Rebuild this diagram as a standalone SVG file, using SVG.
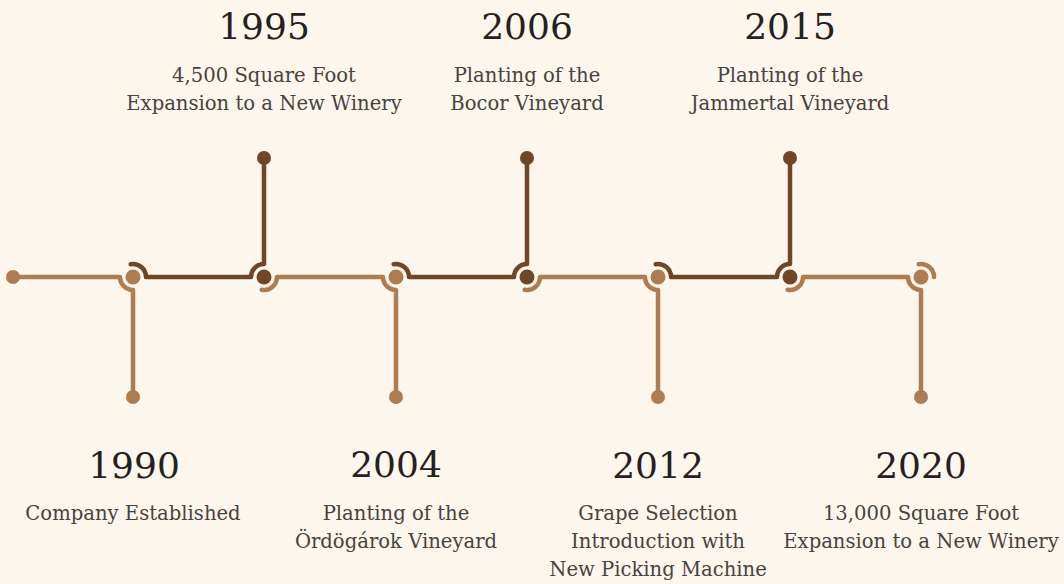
<svg xmlns="http://www.w3.org/2000/svg" width="1064" height="584" viewBox="0 0 1064 584">
<style>
.bg{fill:#fdf6ed}
.ln{fill:none;stroke-width:4.5;stroke-linecap:round;stroke-linejoin:round}
.lt{stroke:#ad7c50}
.dk{stroke:#6f4727}
.flt{fill:#ad7c50}
.fdk{fill:#6f4727}
.yr{font-family:"DejaVu Serif","Liberation Serif",serif;font-size:36px;fill:#262120;text-anchor:middle}
.ds{font-family:"DejaVu Serif","Liberation Serif",serif;font-size:19.6px;fill:#48433f;text-anchor:middle}
</style>
<rect class="bg" x="0" y="0" width="1064" height="584"/>
<g id="connectors">
<path class="ln lt" d="M13,277 H120 A13,13 0 0 0 133,290 V397"/>
<path class="ln dk" d="M130.7,264.2 A13,13 0 0 1 146,277 H251 A13,13 0 0 1 264,264 V158"/>
<path class="ln lt" d="M261.7,289.8 A13,13 0 0 0 277,277 H383 A13,13 0 0 0 396,290 V397"/>
<path class="ln dk" d="M393.7,264.2 A13,13 0 0 1 409,277 H514 A13,13 0 0 1 527,264 V158"/>
<path class="ln lt" d="M524.7,289.8 A13,13 0 0 0 540,277 H645 A13,13 0 0 0 658,290 V397"/>
<path class="ln dk" d="M655.7,264.2 A13,13 0 0 1 671,277 H777 A13,13 0 0 1 790,264 V158"/>
<path class="ln lt" d="M787.7,289.8 A13,13 0 0 0 803,277 H908 A13,13 0 0 0 921,290 V397"/>
<path class="ln lt" d="M918.7,264.2 A13,13 0 0 1 934,277"/>
</g>
<g id="start"><circle class="flt" cx="13" cy="277" r="7"/></g>
<g id="n1990">
<circle class="flt" cx="133" cy="277" r="7.5"/>
<circle class="flt" cx="133" cy="397" r="7"/>
<text class="yr" x="134" y="478">1990</text>
<text class="ds" x="133" y="520">Company Established</text>
</g>
<g id="n1995">
<circle class="fdk" cx="264" cy="277" r="7.5"/>
<circle class="fdk" cx="264" cy="158" r="7"/>
<text class="yr" x="264" y="39">1995</text>
<text class="ds" x="264" y="82">4,500 Square Foot</text>
<text class="ds" x="264" y="110">Expansion to a New Winery</text>
</g>
<g id="n2004">
<circle class="flt" cx="396" cy="277" r="7.5"/>
<circle class="flt" cx="396" cy="397" r="7"/>
<text class="yr" x="396" y="477">2004</text>
<text class="ds" x="396" y="520">Planting of the</text>
<text class="ds" x="396" y="548">Ördögárok Vineyard</text>
</g>
<g id="n2006">
<circle class="fdk" cx="527" cy="277" r="7.5"/>
<circle class="fdk" cx="527" cy="158" r="7"/>
<text class="yr" x="527" y="39">2006</text>
<text class="ds" x="527" y="82">Planting of the</text>
<text class="ds" x="527" y="110">Bocor Vineyard</text>
</g>
<g id="n2012">
<circle class="flt" cx="658" cy="277" r="7.5"/>
<circle class="flt" cx="658" cy="397" r="7"/>
<text class="yr" x="658" y="478">2012</text>
<text class="ds" x="658" y="520">Grape Selection</text>
<text class="ds" x="658" y="548">Introduction with</text>
<text class="ds" x="658" y="576">New Picking Machine</text>
</g>
<g id="n2015">
<circle class="fdk" cx="790" cy="277" r="7.5"/>
<circle class="fdk" cx="790" cy="158" r="7"/>
<text class="yr" x="790" y="39">2015</text>
<text class="ds" x="790" y="82">Planting of the</text>
<text class="ds" x="790" y="110">Jammertal Vineyard</text>
</g>
<g id="n2020">
<circle class="flt" cx="921" cy="277" r="7.5"/>
<circle class="flt" cx="921" cy="397" r="7"/>
<text class="yr" x="921" y="478">2020</text>
<text class="ds" x="921" y="520">13,000 Square Foot</text>
<text class="ds" x="921" y="548">Expansion to a New Winery</text>
</g>
</svg>
